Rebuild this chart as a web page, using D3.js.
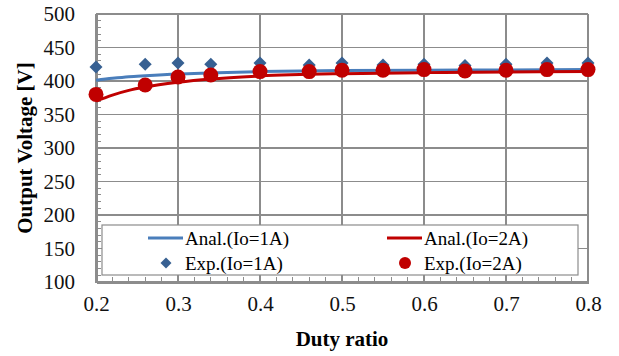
<!DOCTYPE html>
<head>
  <meta charset="utf-8">
  <style>
    body { margin: 0; background: #fff; }
    svg text { font-family: "Times New Roman", "Liberation Serif", Times, serif !important; }
    .grid line { stroke: #8c8c8c; stroke-width: 1.2; shape-rendering: crispEdges; }
    .axis path, .axis line { stroke: #8c8c8c; shape-rendering: crispEdges; }
    .axis text { font-size: 21px; fill: #111; }
  </style>
  <script src="https://d3js.org/d3.v7.min.js" charset="utf-8"></script>
</head>
<body>
  <script>
    var w = 619;
    var h = 356;
    var serif = "'Liberation Serif', 'Times New Roman', serif";

    // measured points
    var expDuty = [0.2, 0.26, 0.3, 0.34, 0.4, 0.46, 0.5, 0.55, 0.6, 0.65, 0.7, 0.75, 0.8];
    var exp1A = [421, 425, 427, 425, 427, 424, 427, 424, 425, 423, 425, 427, 427];
    var exp2A = [380, 394, 406, 409, 414, 414, 416, 416, 417, 415, 416, 417, 417];

    // analytical curves
    var analDuty = [0.2, 0.22, 0.24, 0.26, 0.3, 0.34, 0.4, 0.5, 0.6, 0.7, 0.8];
    var anal1A = [401, 404, 406.5, 408, 410.5, 412, 414, 415.5, 416, 416.5, 417];
    var anal2A = [370, 379, 386, 391, 398, 403, 407.5, 411, 412.5, 413.5, 414];

    var xTicks = [0.2, 0.3, 0.4, 0.5, 0.6, 0.7, 0.8];
    var yTicks = [100, 150, 200, 250, 300, 350, 400, 450, 500];

    var margin = {left: 96, right: 31, top: 14, bottom: 74};

    var xScale = d3.scaleLinear().domain([0.2, 0.8]).range([margin.left, w - margin.right]);
    var yScale = d3.scaleLinear().domain([100, 500]).range([h - margin.bottom, margin.top]);

    var svg = d3.select("body").append("svg")
      .attr("width", w)
      .attr("height", h)
      .attr("font-family", serif);

    // gridlines
    var grid = svg.append("g").attr("class", "grid");
    grid.selectAll("line.gy")
      .data(yTicks)
      .enter().append("line")
      .attr("x1", xScale(0.2)).attr("x2", xScale(0.8))
      .attr("y1", function(d) { return yScale(d); })
      .attr("y2", function(d) { return yScale(d); });
    grid.selectAll("line.gx")
      .data(xTicks)
      .enter().append("line")
      .attr("x1", function(d) { return xScale(d); })
      .attr("x2", function(d) { return xScale(d); })
      .attr("y1", yScale(100)).attr("y2", yScale(500));

    // minor ticks (inside)
    var yMinor = d3.range(100, 501, 10);
    svg.append("g").selectAll("line")
      .data(yMinor)
      .enter().append("line")
      .attr("x1", xScale(0.2)).attr("x2", xScale(0.2) + 5)
      .attr("y1", function(d) { return yScale(d); })
      .attr("y2", function(d) { return yScale(d); })
      .attr("stroke", "#8c8c8c").attr("shape-rendering", "crispEdges");
    var xMinor = d3.range(0, 31).map(function(i) { return 0.2 + i * 0.02; });
    svg.append("g").selectAll("line")
      .data(xMinor)
      .enter().append("line")
      .attr("x1", function(d) { return xScale(d); })
      .attr("x2", function(d) { return xScale(d); })
      .attr("y1", yScale(100)).attr("y2", yScale(100) - 5)
      .attr("stroke", "#8c8c8c").attr("shape-rendering", "crispEdges");

    // axes
    var xAxis = svg.append("g").attr("class", "axis")
      .attr("transform", "translate(0," + yScale(100) + ")")
      .call(d3.axisBottom(xScale).tickValues(xTicks).tickSize(0).tickPadding(14)
        .tickFormat(d3.format(".1f")));
    xAxis.attr("font-family", serif);
    xAxis.select(".domain").attr("stroke-width", 2.5);

    var yAxis = svg.append("g").attr("class", "axis")
      .attr("transform", "translate(" + xScale(0.2) + ",0)")
      .call(d3.axisLeft(yScale).tickValues(yTicks).tickSize(0).tickPadding(21));
    yAxis.attr("font-family", serif);
    yAxis.select(".domain").attr("stroke-width", 2.5);

    // axis titles
    svg.append("text")
      .attr("x", (xScale(0.2) + xScale(0.8)) / 2)
      .attr("y", 346)
      .attr("text-anchor", "middle")
      .attr("font-size", "21px")
      .attr("font-weight", "bold")
      .text("Duty ratio");
    svg.append("text")
      .attr("transform", "translate(32," + ((yScale(100) + yScale(500)) / 2) + ") rotate(-90)")
      .attr("text-anchor", "middle")
      .attr("font-size", "21px")
      .attr("font-weight", "bold")
      .text("Output Voltage [V]");

    // analytical lines
    var line = d3.line()
      .x(function(d) { return xScale(d[0]); })
      .y(function(d) { return yScale(d[1]); })
      .curve(d3.curveMonotoneX);

    svg.append("path")
      .datum(d3.zip(analDuty, anal1A))
      .attr("d", line)
      .attr("fill", "none")
      .attr("stroke", "#4a7ebb")
      .attr("stroke-width", 3);

    svg.append("path")
      .datum(d3.zip(analDuty, anal2A))
      .attr("d", line)
      .attr("fill", "none")
      .attr("stroke", "#c00000")
      .attr("stroke-width", 3);

    // experimental points (square diamonds)
    var diamond = d3.symbol().type(d3.symbolSquare).size(85);
    svg.append("g").selectAll("path")
      .data(d3.zip(expDuty, exp1A))
      .enter().append("path")
      .attr("d", diamond)
      .attr("transform", function(d) {
        return "translate(" + xScale(d[0]) + "," + yScale(d[1]) + ") rotate(45)";
      })
      .attr("fill", "#376092");

    svg.append("g").selectAll("circle")
      .data(d3.zip(expDuty, exp2A))
      .enter().append("circle")
      .attr("cx", function(d) { return xScale(d[0]); })
      .attr("cy", function(d) { return yScale(d[1]); })
      .attr("r", 7.5)
      .attr("fill", "#c00000");

    // legend
    var lg = svg.append("g");
    lg.append("rect")
      .attr("x", 102).attr("y", 225)
      .attr("width", 476).attr("height", 50)
      .attr("fill", "#fff")
      .attr("stroke", "#8c8c8c")
      .attr("stroke-width", 1.2);

    var legendItems = [
      {label: "Anal.(Io=1A)", kind: "line", color: "#4a7ebb", x: 148, y: 238},
      {label: "Exp.(Io=1A)", kind: "diamond", color: "#376092", x: 148, y: 263},
      {label: "Anal.(Io=2A)", kind: "line", color: "#c00000", x: 387, y: 238},
      {label: "Exp.(Io=2A)", kind: "circle", color: "#c00000", x: 387, y: 263}
    ];
    legendItems.forEach(function(it) {
      if (it.kind === "line") {
        lg.append("line")
          .attr("x1", it.x).attr("x2", it.x + 35)
          .attr("y1", it.y).attr("y2", it.y)
          .attr("stroke", it.color).attr("stroke-width", 3);
      } else if (it.kind === "diamond") {
        lg.append("path")
          .attr("d", d3.symbol().type(d3.symbolSquare).size(60))
          .attr("transform", "translate(" + (it.x + 18) + "," + it.y + ") rotate(45)")
          .attr("fill", it.color);
      } else {
        lg.append("circle")
          .attr("cx", it.x + 18).attr("cy", it.y).attr("r", 6)
          .attr("fill", it.color);
      }
      lg.append("text")
        .attr("x", it.x + 37)
        .attr("y", it.y + 7)
        .attr("font-size", "19px")
        .text(it.label);
    });
  </script>
</body>
